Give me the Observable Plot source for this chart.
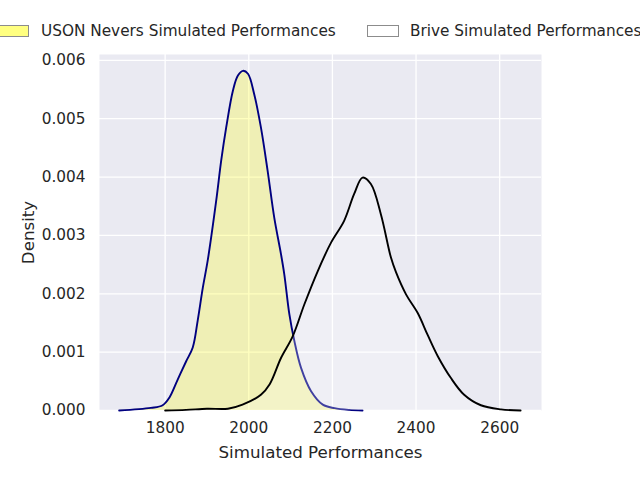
<!DOCTYPE html>
<html>
<head>
<meta charset="utf-8">
<script src="https://cdn.jsdelivr.net/npm/d3@7"></script>
<script src="https://cdn.jsdelivr.net/npm/@observablehq/plot@0.6"></script>
<style>
  html, body { margin: 0; padding: 0; background: white; }
  #wrap { position: relative; width: 640px; height: 480px; overflow: hidden; font-family: "DejaVu Sans", sans-serif; }
  .leg { position: absolute; top: 23px; font-size: 15.3px; color: #262626; line-height: 17px; white-space: nowrap; }
  .patch { position: absolute; top: 25px; width: 30px; height: 10px; border: 1px solid #8c8c8c; }
</style>
</head>
<body>
<div id="wrap">
  <div id="chart"></div>
  <div class="patch" style="left:-3px; background:#ffff80;"></div>
  <div class="leg" style="left:41px;">USON Nevers Simulated Performances</div>
  <div class="patch" style="left:367px; background:#ffffff;"></div>
  <div class="leg" style="left:410px;">Brive Simulated Performances</div>
</div>
<script>
const usonX = [1690, 1766, 1794, 1810, 1830, 1850, 1866, 1878, 1890, 1902, 1922, 1934, 1946, 1962, 1974, 1986, 1998, 2013, 2029, 2045, 2061, 2077, 2085, 2097, 2109, 2125, 2149, 2177, 2205, 2240, 2272];
const usonY = [0, 0.000045, 0.00009, 0.00022, 0.00053, 0.00084, 0.00108, 0.00155, 0.0021, 0.00258, 0.00359, 0.00428, 0.00485, 0.00548, 0.00574, 0.00582, 0.00577, 0.00542, 0.00485, 0.00411, 0.0033, 0.00268, 0.00233, 0.00165, 0.00119, 0.00073, 0.00033, 0.0001, 0.00004, 0.00001, 0];
const briveX = [1800, 1850, 1900, 1950, 1985, 2029, 2050, 2077, 2105, 2133, 2165, 2197, 2228, 2252, 2272, 2292, 2316, 2340, 2352, 2376, 2404, 2428, 2452, 2483, 2515, 2555, 2603, 2650];
const briveY = [0, 0.00001, 0.00003, 0.00003, 0.0001, 0.00027, 0.00045, 0.0009, 0.00127, 0.00182, 0.00239, 0.00288, 0.00325, 0.00371, 0.00399, 0.00388, 0.00336, 0.00262, 0.00237, 0.00199, 0.00167, 0.00129, 0.00093, 0.00056, 0.00027, 0.00009, 0.00002, 0];
const xTicks = [1800, 2000, 2200, 2400, 2600];
const yTicks = [0, 0.001, 0.002, 0.003, 0.004, 0.005, 0.006];
const xLabel = "Simulated Performances";
const yLabel = "Density";

const uson = usonX.map((x, i) => ({x, y: usonY[i]}));
const brive = briveX.map((x, i) => ({x, y: briveY[i]}));

const chart = Plot.plot({
  width: 640,
  height: 480,
  marginLeft: 99,
  marginRight: 99,
  marginTop: 54,
  marginBottom: 70,
  style: {background: "white", fontFamily: "DejaVu Sans, sans-serif", fontSize: "15px", color: "#262626"},
  x: {domain: [1643, 2700]},
  y: {domain: [0, 0.0061]},
  marks: [
    Plot.frame({fill: "#eaeaf2", stroke: null}),
    Plot.ruleX(xTicks, {stroke: "white", strokeWidth: 1.3}),
    Plot.ruleY(yTicks, {stroke: "white", strokeWidth: 1.3}),
    Plot.areaY(uson, {x: "x", y: "y", fill: "yellow", fillOpacity: 0.25, curve: "catmull-rom"}),
    Plot.lineY(uson, {x: "x", y: "y", stroke: "navy", strokeWidth: 1.9, curve: "catmull-rom"}),
    Plot.areaY(brive, {x: "x", y: "y", fill: "white", fillOpacity: 0.25, curve: "catmull-rom"}),
    Plot.lineY(brive, {x: "x", y: "y", stroke: "black", strokeWidth: 1.9, curve: "catmull-rom"}),
    Plot.axisX(xTicks, {tickSize: 0, tickPadding: 12, tickFormat: d3.format("d"), label: null, fill: "#262626", fontSize: 15.3}),
    Plot.axisY(yTicks, {tickSize: 0, tickPadding: 14, tickFormat: d3.format(".3f"), label: null, fill: "#262626", fontSize: 15.3}),
    Plot.text([xLabel], {frameAnchor: "bottom", dy: 42, text: d => d, fontSize: 16.7, fill: "#262626", lineAnchor: "middle", textAnchor: "middle"}),
    Plot.text([yLabel], {frameAnchor: "left", dx: -71, rotate: -90, text: d => d, fontSize: 16.7, fill: "#262626", lineAnchor: "middle", textAnchor: "middle"})
  ]
});
document.getElementById("chart").appendChild(chart);
</script>
</body>
</html>
